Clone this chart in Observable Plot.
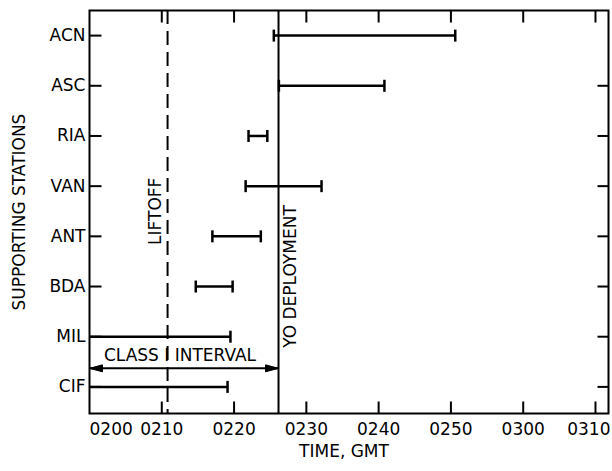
<!DOCTYPE html>
<html>
<head>
<meta charset="utf-8">
<script src="https://cdn.jsdelivr.net/npm/d3@7"></script>
<script src="https://cdn.jsdelivr.net/npm/@observablehq/plot@0.6"></script>
<style>
  html, body { margin: 0; padding: 0; background: #fff; }
  #chart svg { display: block; }
</style>
</head>
<body>
<div id="chart"></div>
<script>
// Stations (top to bottom) and coverage intervals, minutes after 0200 GMT
const stations = ["ACN", "ASC", "RIA", "VAN", "ANT", "BDA", "MIL", "CIF"];
const startMin = [25.5, 26.2, 22.0, 21.6, 17.0, 14.7, 0, 0];
const endMin   = [50.6, 40.8, 24.6, 32.1, 23.7, 19.8, 19.5, 19.1];

// Time axis ticks
const xTicks = [0, 10, 20, 30, 40, 50, 60, 70];
const xTickLabels = ["0200", "0210", "0220", "0230", "0240", "0250", "0300", "0310"];

// Events
const liftoffMin = 10.8;
const yoDeployMin = 26.15;
const classIStart = 0;
const classIEnd = 26.15;
const classIRow = 6.63;   // position between MIL and CIF rows

const rows = stations.map((s, i) => ({station: s, i, start: startMin[i], end: endMin[i]}));
const startCaps = rows.filter(d => d.start > 0);
const rightTickRows = rows.filter(d => d.station !== "ACN");
const innerTicks = xTicks.filter(t => t > 0);
const nT = xTicks.length;

const sym = (pts, close) => ({
  draw(ctx) {
    ctx.moveTo(pts[0][0], pts[0][1]);
    for (let k = 1; k < pts.length; ++k) ctx.lineTo(pts[k][0], pts[k][1]);
    if (close) ctx.closePath();
  }
});
const tickRight = sym([[0, 0], [12, 0]]);
const tickLeft  = sym([[0, 0], [-11, 0]]);
const tickUp    = sym([[0, 0], [0, -12]]);
const tickDown  = sym([[0, 0], [0, 12]]);
const cap       = sym([[0, -6], [0, 6]]);
const headLeft  = sym([[0, 0], [13, -3.5], [13, 3.5]], true);
const headRight = sym([[0, 0], [-13, -3.5], [-13, 3.5]], true);

const font = "DejaVu Sans, sans-serif";
const fs = 17;

const chart = Plot.plot({
  width: 612,
  height: 471,
  marginLeft: 89,
  marginRight: 4,
  marginTop: 10,
  marginBottom: 58,
  style: {fontFamily: font, fontSize: fs + "px", color: "black", background: "white"},
  x: {domain: [0, 71.8], axis: null},
  y: {domain: [7.53, -0.5], axis: null},
  marks: [
    // event lines
    Plot.ruleX([liftoffMin], {x: d => d, stroke: "black", strokeWidth: 2, strokeDasharray: "14,7"}),
    Plot.ruleX([yoDeployMin], {x: d => d, stroke: "black", strokeWidth: 2}),
    // station coverage bars
    Plot.ruleY(rows, {y: "i", x1: "start", x2: "end", stroke: "black", strokeWidth: 2.5}),
    Plot.dot(rows, {x: "end", y: "i", symbol: cap, fill: "none", stroke: "black", strokeWidth: 2.5}),
    Plot.dot(startCaps, {x: "start", y: "i", symbol: cap, fill: "none", stroke: "black", strokeWidth: 2.5}),
    // Class I interval arrow
    Plot.ruleY([classIRow], {y: d => d, x1: classIStart, x2: classIEnd, stroke: "black", strokeWidth: 2}),
    Plot.dot([classIStart], {x: d => d, y: classIRow, symbol: headLeft, fill: "black", stroke: "black", strokeWidth: 1}),
    Plot.dot([classIEnd], {x: d => d, y: classIRow, symbol: headRight, fill: "black", stroke: "black", strokeWidth: 1}),
    Plot.text(["CLASS I INTERVAL"], {x: (classIStart + classIEnd) / 2, y: classIRow, dx: -4, dy: -13, fontSize: fs, fill: "black"}),
    // event labels
    Plot.text(["LIFTOFF"], {x: liftoffMin, y: 3.5, dx: -12, rotate: -90, textAnchor: "middle", fontSize: fs, fill: "black"}),
    Plot.text(["YO DEPLOYMENT"], {x: yoDeployMin, y: 4.8, dx: 12, rotate: -90, textAnchor: "middle", fontSize: fs, fill: "black"}),
    // frame
    Plot.frame({stroke: "black", strokeWidth: 2}),
    // y ticks (inward)
    Plot.dot(rows, {x: () => 0, y: "i", symbol: tickRight, fill: "none", stroke: "black", strokeWidth: 2}),
    Plot.dot(rightTickRows, {frameAnchor: "right", y: "i", symbol: tickLeft, fill: "none", stroke: "black", strokeWidth: 2}),
    // x ticks (inward, top and bottom)
    Plot.dot(innerTicks, {x: d => d, frameAnchor: "bottom", symbol: tickUp, fill: "none", stroke: "black", strokeWidth: 2}),
    Plot.dot(innerTicks, {x: d => d, frameAnchor: "top", symbol: tickDown, fill: "none", stroke: "black", strokeWidth: 2}),
    // y tick labels
    Plot.text(rows, {y: "i", text: "station", frameAnchor: "left", dx: -4, textAnchor: "end", lineAnchor: "middle", fontSize: fs, fill: "black"}),
    // x tick labels
    Plot.text([xTicks[0]], {x: d => d, text: () => xTickLabels[0], frameAnchor: "bottom", dy: 16, textAnchor: "start", lineAnchor: "middle", fontSize: fs, fill: "black"}),
    Plot.text(xTicks.slice(1, nT - 1), {x: d => d, text: (d, k) => xTickLabels[k + 1], frameAnchor: "bottom", dy: 16, textAnchor: "middle", lineAnchor: "middle", fontSize: fs, fill: "black"}),
    Plot.text([xTicks[nT - 1]], {x: d => d, text: () => xTickLabels[nT - 1], frameAnchor: "bottom", dx: 15, dy: 16, textAnchor: "end", lineAnchor: "middle", fontSize: fs, fill: "black"}),
    // axis titles
    Plot.text(["SUPPORTING STATIONS"], {frameAnchor: "left", dx: -70, rotate: -90, textAnchor: "middle", lineAnchor: "middle", fontSize: fs, fill: "black"}),
    Plot.text(["TIME, GMT"], {frameAnchor: "bottom", dx: -5, dy: 38, textAnchor: "middle", lineAnchor: "middle", fontSize: fs, fill: "black"})
  ]
});
document.getElementById("chart").appendChild(chart);
</script>
</body>
</html>
